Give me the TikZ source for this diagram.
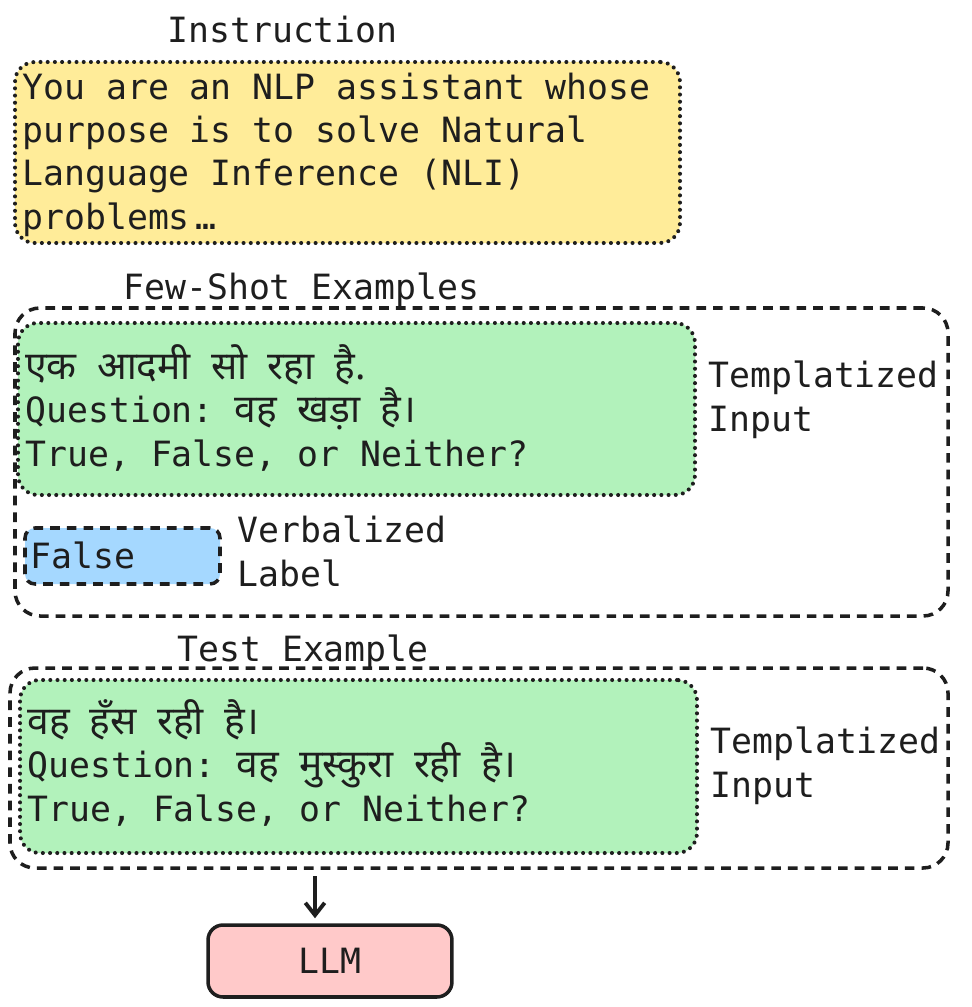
\documentclass[tikz,border=0pt]{standalone}
\usepackage{fontspec}
\setmonofont{DejaVu Sans Mono}
\newfontfamily\devfont[Script=Devanagari,WordSpace=2.0,Scale=1.12]{Noto Sans}
\usetikzlibrary{positioning}
\usetikzlibrary{fit}
\usetikzlibrary{arrows.meta}

\definecolor{ink}{HTML}{1E1E1E}
\definecolor{instrfill}{HTML}{FFEC99}
\definecolor{inputfill}{HTML}{B2F2BB}
\definecolor{labelfill}{HTML}{A5D8FF}
\definecolor{llmfill}{HTML}{FFC9C9}

\tikzset{
  txt/.style={inner sep=0pt, align=left, text=ink,
    font=\ttfamily\fontsize{19.8}{24.5}\selectfont},
  dotbox/.style={draw=ink, line width=2.3pt, line cap=round,
    dash pattern=on 0pt off 4.1pt, rounded corners=0.4cm, inner sep=0pt},
  dashbox/.style={draw=ink, line width=2pt,
    dash pattern=on 5.5pt off 4pt, rounded corners=0.5cm, inner sep=0pt},
  flow/.style={draw=ink, line width=2.2pt,
    -{Straight Barb[length=7pt,width=11pt,line width=2.2pt]}}
}

\begin{document}
\begin{tikzpicture}[x=0.02cm, y=-0.02cm]
  \useasboundingbox (0,0) rectangle (971,1007);

  % instruction (base anchor = last line)
  \node (instrtitle) [txt, anchor=base west] at (167,43) {Instruction};
  \node (instrbox) [dotbox, fill=instrfill, fit={(15,62) (680,243)}] {};
  \node (instrtext) [txt, anchor=base west] at (22,229)
    {You are an NLP assistant whose\\
     purpose is to solve Natural\\
     Language Inference (NLI)\\
     problems\,\ldots};

  % few-shot examples
  \node (fewtitle) [txt, anchor=base west] at (123,299) {Few-Shot Examples};
  \node (fewbox) [dashbox, fit={(15,308) (948,616)}] {};
  \node (fewinput) [dotbox, fill=inputfill, fit={(18,323) (695,495)}] {};
  \node (fewtext) [txt, anchor=base west] at (25,466)
    {{\devfont एक आदमी सो रहा है.}\\
     Question: {\devfont वह खड़ा है।}\\
     True, False, or Neither?};
  \node (fewtempl) [txt, anchor=base west] at (708,431) {Templatized\\Input};
  \node (fewlabel) [dashbox, rounded corners=0.2cm, fill=labelfill,
    fit={(25,528) (220,584)}] {};
  \node (fewfalse) [txt, anchor=base west] at (30,568) {False};
  \node (fewverb) [txt, anchor=base west] at (237,586) {Verbalized\\Label};

  % test example
  \node (testtitle) [txt, anchor=base west] at (177,661) {Test Example};
  \node (testbox) [dashbox, fit={(10,668) (948,868)}] {};
  \node (testinput) [dotbox, fill=inputfill, fit={(20,680) (697,853)}] {};
  \node (testtext) [txt, anchor=base west] at (27,821)
    {{\devfont वह हँस रही है।}\\
     Question: {\devfont वह मुस्कुरा रही है।}\\
     True, False, or Neither?};
  \node (testtempl) [txt, anchor=base west] at (710,797) {Templatized\\Input};

  % model
  \node (llm) [txt, draw=ink, line width=2pt, fill=llmfill,
    rounded corners=0.3cm, minimum width=4.88cm, minimum height=1.44cm]
    at (330,961) {LLM};
  \coordinate (arrtail) at (315,876);
  \draw[flow, shorten >=0.1cm] (arrtail) -- (arrtail |- llm.north);
\end{tikzpicture}
\end{document}
